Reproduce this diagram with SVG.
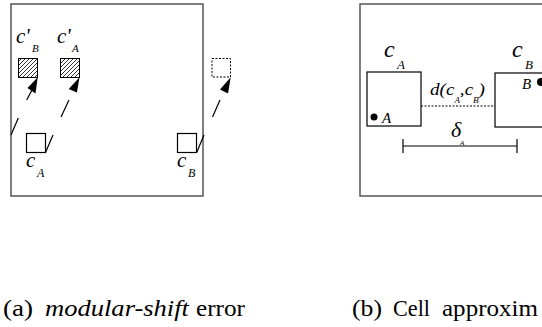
<svg xmlns="http://www.w3.org/2000/svg" width="542" height="327" viewBox="0 0 542 327">
<style>
.frame{fill:none;stroke:#555;stroke-width:1.5}
.cell{fill:#fff;stroke:#000;stroke-width:1.2}
.hatch{fill:url(#hatch);stroke:#000;stroke-width:1}
.ghost{fill:none;stroke:#000;stroke-width:1;stroke-dasharray:2,1.5}
.conn{stroke:#000;stroke-width:1.2;fill:none}
.head{fill:#000}
.lbl{font-family:'Liberation Serif','DejaVu Serif',serif;font-style:italic;fill:#000}
.cap{font-family:'Liberation Serif','DejaVu Serif',serif;fill:#000;font-size:23px}
</style>
<defs>
<pattern id="hatch" patternUnits="userSpaceOnUse" width="4" height="4">
<rect width="4" height="4" fill="#fff"/>
<path d="M-1,1 l2,-2 M0,4 l4,-4 M3,5 l2,-2" stroke="#000" stroke-width="0.8"/>
</pattern>
</defs>

<g id="panel-a">
<rect class="frame" x="11" y="4" width="192" height="192"/>
</g>
<g id="cA-prime-B">
<rect class="hatch" x="18.5" y="58.5" width="19" height="19"/>
<text class="lbl" x="16" y="43" font-size="21">c'</text>
<text class="lbl" x="32" y="52" font-size="11">B</text>
</g>
<g id="cA-prime-A">
<rect class="hatch" x="60.5" y="58.5" width="19" height="19"/>
<text class="lbl" x="57" y="43" font-size="21">c'</text>
<text class="lbl" x="72" y="52" font-size="11">A</text>
</g>
<g id="cell-A">
<rect class="cell" x="26.5" y="133.5" width="19" height="19"/>
<text class="lbl" x="26" y="167" font-size="21">c</text>
<text class="lbl" x="37" y="177" font-size="12">A</text>
</g>
<g id="cell-B">
<rect class="cell" x="177.5" y="133.5" width="19" height="19"/>
<text class="lbl" x="177" y="167" font-size="21">c</text>
<text class="lbl" x="188" y="177" font-size="12">B</text>
</g>
<g id="ghost-B">
<rect class="ghost" x="212" y="58.5" width="18.5" height="18.5"/>
</g>

<g id="panel-b">
<rect class="frame" x="360" y="4" width="200" height="192"/>
</g>
<g id="big-cA">
<rect class="cell" x="367" y="72" width="54" height="54"/>
<text class="lbl" x="384" y="57" font-size="24">c</text>
<text class="lbl" x="397" y="69" font-size="13">A</text>
<circle cx="374" cy="117" r="3.5" fill="#000"/>
<text class="lbl" x="382" y="123" font-size="15">A</text>
</g>
<g id="big-cB">
<rect class="cell" x="495" y="73" width="60" height="54"/>
<text class="lbl" x="512" y="57" font-size="24">c</text>
<text class="lbl" x="525" y="69" font-size="13">B</text>
<circle cx="541" cy="82" r="4" fill="#000"/>
<text class="lbl" x="522" y="89" font-size="15">B</text>
</g>

<g id="connectors">
<line class="conn" x1="11" y1="135" x2="18.3" y2="118"/>
<line class="conn" x1="26.7" y1="100" x2="32" y2="90"/>
<polygon class="head" points="37.7,77.3 27.5,88 35.5,93.5"/>
<line class="conn" x1="45.5" y1="152.5" x2="53" y2="135"/>
<line class="conn" x1="61" y1="117" x2="69" y2="100"/>
<polygon class="head" points="79.5,77.3 68.7,88.9 76.9,92.5"/>
<line class="conn" x1="196.7" y1="152.5" x2="204" y2="135"/>
<line class="conn" x1="212.5" y1="117" x2="220" y2="100"/>
<polygon class="head" points="230.7,77.3 220,89.5 228,93.5"/>
<line x1="421" y1="106" x2="495" y2="106" stroke="#000" stroke-width="1" stroke-dasharray="2,1.5"/>
<line x1="403" y1="146" x2="517" y2="146" stroke="#000" stroke-width="1.2"/>
<line x1="403" y1="139" x2="403" y2="153" stroke="#000" stroke-width="1.2"/>
<line x1="517" y1="139" x2="517" y2="153" stroke="#000" stroke-width="1.2"/>
<text class="lbl" x="430" y="95" font-size="17" textLength="55" lengthAdjust="spacingAndGlyphs">d(c<tspan font-size="8" dy="8">A</tspan><tspan dy="-8">,c</tspan><tspan font-size="8" dy="8">B</tspan><tspan dy="-8">)</tspan></text>
<text class="lbl" x="451" y="137" font-size="22">δ</text>
<text class="lbl" x="460" y="145" font-size="7">A</text>
</g>

<g id="captions">
<text class="cap" x="3" y="316" textLength="30" lengthAdjust="spacingAndGlyphs">(a)</text>
<text class="cap" x="45" y="316" font-style="italic" textLength="144" lengthAdjust="spacingAndGlyphs">modular-shift</text>
<text class="cap" x="196" y="316" textLength="49" lengthAdjust="spacingAndGlyphs">error</text>
<text class="cap" x="352" y="316" textLength="30" lengthAdjust="spacingAndGlyphs">(b)</text>
<text class="cap" x="393" y="316" textLength="37" lengthAdjust="spacingAndGlyphs">Cell</text>
<text class="cap" x="442" y="316" textLength="96" lengthAdjust="spacingAndGlyphs">approxim</text>
</g>
</svg>
